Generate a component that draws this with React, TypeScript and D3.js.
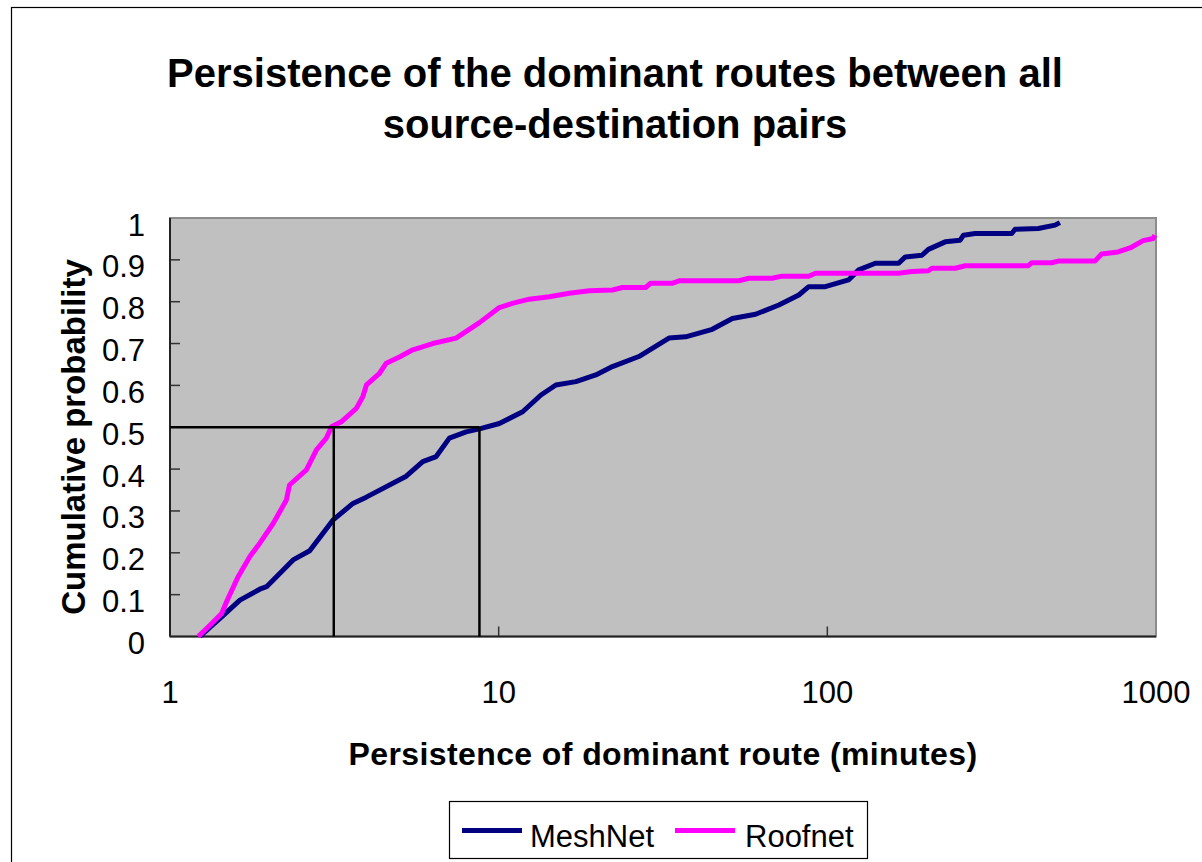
import React from "react";
import * as d3 from "d3";

const meshX = [1.233, 1.436, 1.632, 1.876, 1.967, 2.369, 2.661, 3.13, 3.603, 3.956, 5.233, 5.876, 6.454, 7.08, 7.96, 8.74, 10.05, 11.83, 13.45, 14.93, 17.18, 19.75, 22.19, 26.7, 32.97, 37.06, 44.66, 51.4, 60.5, 71.2, 81.9, 87.8, 98.6, 116, 124.6, 140, 164.8, 172.7, 194, 203, 228.4, 253.6, 259.6, 281.6, 364, 372.6, 438.5, 492.9, 510];
const meshY = [0, 0.047, 0.087, 0.113, 0.119, 0.183, 0.205, 0.278, 0.318, 0.333, 0.383, 0.418, 0.43, 0.474, 0.489, 0.496, 0.509, 0.537, 0.577, 0.601, 0.609, 0.625, 0.645, 0.669, 0.713, 0.716, 0.734, 0.76, 0.77, 0.792, 0.816, 0.836, 0.836, 0.852, 0.876, 0.892, 0.892, 0.907, 0.911, 0.925, 0.943, 0.947, 0.959, 0.963, 0.963, 0.973, 0.975, 0.983, 0.989];

const roofX = [1.219, 1.323, 1.436, 1.486, 1.612, 1.75, 1.876, 2.06, 2.26, 2.31, 2.6, 2.79, 2.99, 3.1, 3.32, 3.69, 3.86, 3.96, 4.34, 4.55, 4.99, 5.48, 6.3, 7.42, 8.74, 10, 11.0, 12.4, 14.26, 16.4, 18.85, 22.2, 23.8, 28.0, 29.0, 33.7, 35.4, 53.8, 57.7, 67.9, 72.8, 87.8, 92, 143, 164.8, 180.8, 203, 208, 245, 263, 409, 419, 482, 504, 652, 683, 767, 842, 914, 980, 992];
const roofY = [0, 0.027, 0.055, 0.083, 0.143, 0.191, 0.223, 0.27, 0.326, 0.362, 0.398, 0.446, 0.474, 0.501, 0.513, 0.545, 0.573, 0.601, 0.629, 0.653, 0.668, 0.685, 0.7, 0.713, 0.75, 0.785, 0.796, 0.806, 0.812, 0.82, 0.826, 0.828, 0.834, 0.834, 0.844, 0.844, 0.85, 0.85, 0.856, 0.856, 0.861, 0.861, 0.868, 0.868, 0.868, 0.872, 0.874, 0.88, 0.88, 0.886, 0.886, 0.893, 0.893, 0.897, 0.897, 0.914, 0.919, 0.93, 0.946, 0.951, 0.959];

const xTicks = [1, 10, 100, 1000];
const xTickLabels = ["1", "10", "100", "1000"];
const yTicks = [0, 0.1, 0.2, 0.3, 0.4, 0.5, 0.6, 0.7, 0.8, 0.9, 1];
const yTickLabels = ["0", "0.1", "0.2", "0.3", "0.4", "0.5", "0.6", "0.7", "0.8", "0.9", "1"];
const medianRoof = 3.15;
const medianMesh = 8.74;

const seriesNames = ["MeshNet", "Roofnet"];
const seriesColors = ["#000080", "#FF00FF"];

const FONT = "'Liberation Sans', Arial, Helvetica, sans-serif";

export default function App() {
  const left = 170, right = 1156, top = 218, bottom = 636.5;
  const x = d3.scaleLog().domain([1, 1000]).range([left, right]);
  const y = d3.scaleLinear().domain([0, 1]).range([bottom, top]);
  const line = d3.line<[number, number]>().x((d) => x(d[0])).y((d) => y(d[1]));
  const mesh = meshX.map((v, i) => [v, meshY[i]] as [number, number]);
  const roof = roofX.map((v, i) => [v, roofY[i]] as [number, number]);

  return (
    <svg width={1202} height={862} style={{ position: "absolute", left: 0, top: 0, background: "#fff" }} fontFamily={FONT}>
      <rect x={11.5} y={7.5} width={1300} height={1000} fill="#fff" stroke="#000" strokeWidth={1.2} />
      <text x={615} y={87} textAnchor="middle" fontSize={40} fontWeight="bold">Persistence of the dominant routes between all</text>
      <text x={615} y={138} textAnchor="middle" fontSize={40} fontWeight="bold">source-destination pairs</text>

      <rect x={left} y={top} width={right - left} height={bottom - top} fill="#C0C0C0" stroke="#8c8c8c" strokeWidth={2} />
      {yTicks.slice(1, -1).map((t) => (
        <line key={"yt" + t} x1={left} x2={left + 10} y1={y(t)} y2={y(t)} stroke="#333" strokeWidth={1.5} />
      ))}
      {xTicks.slice(1, -1).map((t) => (
        <line key={"xt" + t} x1={x(t)} x2={x(t)} y1={bottom} y2={bottom - 10} stroke="#333" strokeWidth={1.5} />
      ))}
      <line x1={left} x2={left} y1={top} y2={bottom} stroke="#222" strokeWidth={2} />
      <line x1={left} x2={right} y1={bottom} y2={bottom} stroke="#222" strokeWidth={2} />

      <path d={line(mesh) || ""} fill="none" stroke={seriesColors[0]} strokeWidth={5} strokeLinejoin="round" />
      <path d={line(roof) || ""} fill="none" stroke={seriesColors[1]} strokeWidth={5} strokeLinejoin="round" />

      <line x1={left} x2={x(medianMesh)} y1={y(0.5)} y2={y(0.5)} stroke="#000" strokeWidth={2.5} />
      <line x1={x(medianRoof)} x2={x(medianRoof)} y1={y(0.5)} y2={bottom} stroke="#000" strokeWidth={2.5} />
      <line x1={x(medianMesh)} x2={x(medianMesh)} y1={y(0.5)} y2={bottom} stroke="#000" strokeWidth={2.5} />

      {yTicks.map((t, i) => (
        <text key={"yl" + t} x={145} y={y(t) + 17.5} textAnchor="end" fontSize={31}>{yTickLabels[i]}</text>
      ))}
      {xTicks.map((t, i) => (
        <text key={"xl" + t} x={x(t)} y={703} textAnchor="middle" fontSize={31}>{xTickLabels[i]}</text>
      ))}

      <text transform="translate(85,437) rotate(-90)" textAnchor="middle" fontSize={33} fontWeight="bold">Cumulative probability</text>
      <text x={663} y={765} textAnchor="middle" fontSize={32} fontWeight="bold" letterSpacing={0.4}>Persistence of dominant route (minutes)</text>

      <rect x={449.5} y={801.5} width={418} height={57} fill="#fff" stroke="#000" strokeWidth={1.2} />
      <line x1={462} x2={522} y1={830.5} y2={830.5} stroke={seriesColors[0]} strokeWidth={5} />
      <text x={530} y={847} fontSize={31}>{seriesNames[0]}</text>
      <line x1={675} x2={735} y1={830.5} y2={830.5} stroke={seriesColors[1]} strokeWidth={5} />
      <text x={745} y={847} fontSize={31}>{seriesNames[1]}</text>
    </svg>
  );
}
